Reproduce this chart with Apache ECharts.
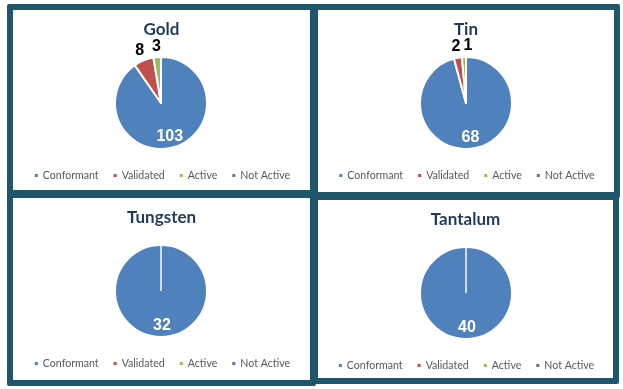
<!DOCTYPE html>
<html><head><meta charset="utf-8">
<script src="https://cdn.jsdelivr.net/npm/echarts@6/dist/echarts.min.js"></script>
<style>
html,body{margin:0;padding:0;background:#fff;width:623px;height:389px;overflow:hidden}
.p{position:absolute;border:6px solid #20566a;box-sizing:content-box;background:#fff;border-radius:2px}
</style></head><body>
<div id="c0" class="p" style="left:7px;top:4px;width:297px;height:180px"></div>
<div id="c1" class="p" style="left:312px;top:4px;width:296px;height:182px"></div>
<div id="c2" class="p" style="left:7px;top:192px;width:297px;height:182px"></div>
<div id="c3" class="p" style="left:312px;top:194px;width:295px;height:178px"></div>
<script>
const categories = ['Conformant', 'Validated', 'Active', 'Not Active'];
const titles = ['Gold', 'Tin', 'Tungsten', 'Tantalum'];
const goldValues = [103, 8, 3, 0];
const tinValues = [68, 2, 1, 0];
const tungstenValues = [32, 0, 0, 0];
const tantalumValues = [40, 0, 0, 0];
const allValues = [goldValues, tinValues, tungstenValues, tantalumValues];
const colors = ['#4f81bd', '#c0504d', '#9bbb59', '#8064a2'];

allValues.forEach(function (vals, i) {
  const chart = echarts.init(document.getElementById('c' + i), null, {renderer: 'canvas'});
  const rects = {};
  const data = categories.map(function (name, k) {
    const big = k === 0;
    return {
      name: name,
      value: vals[k],
      itemStyle: {borderWidth: vals[k] > 0 ? 2 : 0.4},
      label: big ? {
        show: vals[k] > 0,
        position: 'inside',
        offset: [1, 9],
        color: '#ffffff'
      } : {
        show: vals[k] > 0,
        position: 'outside',
        color: '#000000',
        distanceToLabelLine: -4.5
      }
    };
  });
  chart.setOption({
    animation: false,
    color: colors,
    title: {
      text: titles[i],
      left: 'center',
      top: 6,
      textStyle: {fontFamily: 'Lato', fontWeight: 'bold', fontSize: 17, color: '#1f3a5f'}
    },
    legend: {
      data: categories,
      left: 'center',
      top: 155,
      icon: 'rect',
      itemWidth: 5,
      itemHeight: 5,
      itemGap: 13,
      textStyle: {fontFamily: 'Lato', fontSize: 10.6, color: '#595959', padding: [0, 0, 0, -1]}
    },
    series: [{
      type: 'pie',
      center: [148, 93],
      radius: 46,
      startAngle: 90,
      clockwise: true,
      avoidLabelOverlap: false,
      itemStyle: {borderColor: '#ffffff'},
      label: {formatter: '{c}', fontFamily: 'Liberation Sans', fontWeight: 'bold', fontSize: 16},
      labelLine: {show: false, length: 11, length2: 0},
      labelLayout: function (p) {
        const r = p.labelRect;
        rects[p.dataIndex] = r;
        const prev = rects[p.dataIndex - 1];
        if (p.dataIndex > 1 && prev && vals[p.dataIndex - 1] > 0) {
          const need = prev.x + prev.width + 3 - r.x;
          if (need > 0 && Math.abs(prev.y - r.y) < r.height) {
            return {dx: need, hideOverlap: false};
          }
        }
        return {hideOverlap: false};
      },
      emphasis: {disabled: true},
      data: data
    }]
  });
});
</script>
</body></html>
